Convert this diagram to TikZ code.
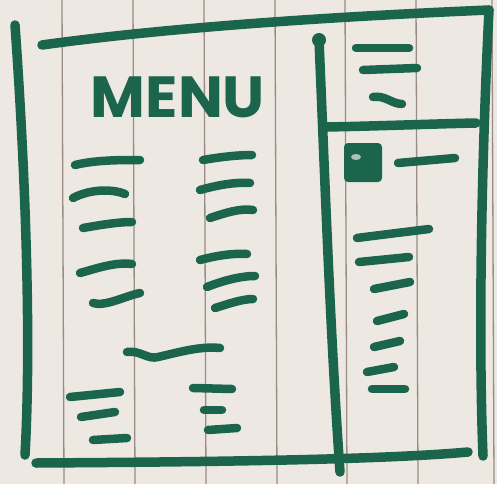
\documentclass[tikz,border=0pt]{standalone}
\usepackage{fontspec}
\newfontfamily\sketchfont{Poppins}
\definecolor{paper}{HTML}{EDE8E2}
\definecolor{rule}{HTML}{9A8C84}
\definecolor{ink}{HTML}{1B654D}
\begin{document}
\begin{tikzpicture}[x=1pt,y=-1pt,
  pen/.style={draw=ink,line width=9.5pt,line cap=round,line join=round},
  thinpen/.style={draw=ink,line width=8.5pt,line cap=round,line join=round},
  paperrule/.style={draw=rule,line width=1.3pt}]
\fill[paper] (0,0) rectangle (497,484);
\useasboundingbox (0,0) rectangle (497,484);
% paper rules
\foreach \xx in {62,133,204,275,345,416,492}
  \draw[paperrule] (\xx,0) -- (\xx+2,484);
% outer frame
\draw[pen] (15,25) .. controls (24,150) and (32,330) .. (25,455);
\draw[pen] (42,45) .. controls (150,30) and (300,18) .. (489,10);
\draw[pen] (489,10) .. controls (482,150) and (478,330) .. (483,456);
\draw[pen] (36,463) .. controls (200,462) and (380,460) .. (468,452);
% right panel divider
\draw[pen] (319,40) .. controls (325,180) and (330,330) .. (340,472);
\fill[ink] (319,40) circle (7pt);
\draw[pen] (326,127) .. controls (380,126) and (430,124) .. (476,123);
% menu title
\node[text=ink,font=\sketchfont\bfseries\fontsize{58}{58}\selectfont,xscale=1.03] (menu) at (178,97) {MENU};
% left column
\draw[thinpen] (75,165) .. controls (95,160) and (120,160) .. (140,160);
\draw[thinpen] (73,198) .. controls (88,190) and (110,188) .. (125,194);
\draw[thinpen] (83,228) .. controls (100,225) and (118,222) .. (132,222);
\draw[thinpen] (80,273) .. controls (98,268) and (115,262) .. (132,264);
\draw[thinpen] (93,303) .. controls (105,307) and (125,296) .. (140,293);
% right column
\draw[thinpen] (203,160) .. controls (220,157) and (238,155) .. (252,155);
\draw[thinpen] (200,190) .. controls (218,185) and (235,182) .. (250,183);
\draw[thinpen] (210,218) .. controls (225,213) and (240,208) .. (253,210);
\draw[thinpen] (200,260) .. controls (215,256) and (232,253) .. (247,254);
\draw[thinpen] (207,287) .. controls (222,281) and (240,276) .. (255,276);
\draw[thinpen] (215,308) .. controls (228,304) and (242,299) .. (253,299);
% wavy line
\draw[thinpen] (127,352) .. controls (140,350) and (148,360) .. (158,357)
  .. controls (180,352) and (200,346) .. (220,348);
% lower groups
\draw[thinpen] (70,397) -- (120,392);
\draw[thinpen] (81,417) -- (115,412);
\draw[thinpen] (93,440) -- (127,438);
\draw[thinpen] (193,388) -- (232,389);
\draw[thinpen] (204,410) -- (222,410);
\draw[thinpen] (208,430) -- (237,428);
% right panel top lines
\draw[thinpen] (356,48) -- (409,48);
\draw[thinpen] (363,70) -- (417,68);
\draw[thinpen] (373,97) .. controls (385,95) and (392,104) .. (402,104);
% icon
\fill[ink,rounded corners=4pt] (344,143) rectangle (382,182);
\fill[paper,opacity=0.7] (356,157) ellipse (5pt and 3pt);
\draw[thinpen] (398,163) -- (455,158);
% right panel list
\draw[thinpen] (357,238) .. controls (380,235) and (405,232) .. (429,229);
\draw[thinpen] (359,262) -- (409,257);
\draw[thinpen] (374,289) -- (410,282);
\draw[thinpen] (377,321) -- (404,314);
\draw[thinpen] (374,347) -- (400,341);
\draw[thinpen] (367,372) -- (394,367);
\draw[thinpen] (372,389) -- (405,389);
\end{tikzpicture}
\end{document}
